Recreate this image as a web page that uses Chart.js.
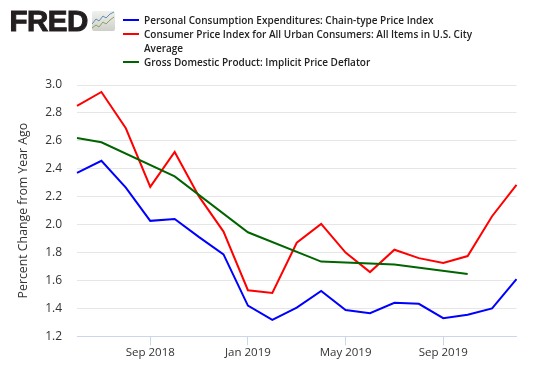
<!DOCTYPE html>
<html>
<head>
<meta charset="utf-8">
<script src="https://cdn.jsdelivr.net/npm/chart.js@4"></script>
<style>
html,body{margin:0;padding:0;background:#fff;width:537px;height:385px;overflow:hidden}
#wrap{position:relative;width:537px;height:385px}
canvas{position:absolute;left:0;top:0}
#logo{position:absolute;left:9.5px;top:2.5px;font:900 29.5px/36px "Liberation Sans";color:#231f20;letter-spacing:-0.5px;-webkit-text-stroke:1px #231f20}
#icon{position:absolute;left:92px;top:11px}
.lg{position:absolute;left:144px;font:600 10px/14px "Open Sans";color:#222;white-space:nowrap}
.sw{position:absolute;left:123px;width:16px;height:2px}
</style>
</head>
<body>
<div id="wrap">
<canvas id="c" width="537" height="385"></canvas>
<div id="logo">FRED</div>
<svg id="icon" width="23" height="20" viewBox="0 0 23 20">
<defs><linearGradient id="g" x1="0" y1="0" x2="0" y2="1"><stop offset="0" stop-color="#f0f0ee"/><stop offset="1" stop-color="#cfcfca"/></linearGradient></defs>
<rect width="23" height="20" rx="2" fill="url(#g)"/>
<polyline points="0,13 4,8 7,10 11,5 14,7 18,3 22,1" fill="none" stroke="#5f8fb0" stroke-width="1"/>
<polyline points="0,17 4,14 7,16 11,11 14,13 18,9 22,6" fill="none" stroke="#8aa35a" stroke-width="1"/>
</svg>
<div id="legend"></div>
</div>
<script>
const categories = ["Jun 2018","Jul 2018","Aug 2018","Sep 2018","Oct 2018","Nov 2018","Dec 2018","Jan 2019","Feb 2019","Mar 2019","Apr 2019","May 2019","Jun 2019","Jul 2019","Aug 2019","Sep 2019","Oct 2019","Nov 2019","Dec 2019"];
const tickLabels = ["Sep 2018","Jan 2019","May 2019","Sep 2019"];
const pceValues = [2.37,2.457,2.265,2.027,2.04,1.91,1.787,1.42,1.317,1.405,1.525,1.388,1.365,1.44,1.433,1.33,1.355,1.40,1.61];
const cpiValues = [2.85,2.95,2.69,2.27,2.52,2.2,1.95,1.53,1.51,1.87,2.005,1.80,1.66,1.82,1.76,1.725,1.775,2.06,2.285];
const gdpValues = [2.62,2.59,null,null,2.345,null,null,1.945,null,null,1.735,null,null,1.715,null,null,1.647,null,null];
const seriesNames = ["Personal Consumption Expenditures: Chain-type Price Index","Consumer Price Index for All Urban Consumers: All Items in U.S. City\nAverage","Gross Domestic Product: Implicit Price Deflator"];
const seriesColors = ["#0000ff","#ff0000","#006400"];

const legendTops = [12.5,26.5,54.5];
const legend = document.getElementById("legend");
seriesNames.forEach((n,i)=>{
  const t=document.createElement("div");t.className="lg";t.style.top=legendTops[i]+"px";t.innerText=n;legend.appendChild(t);
  const s=document.createElement("div");s.className="sw";s.style.top=Math.floor(legendTops[i]+7)+"px";s.style.background=seriesColors[i];legend.appendChild(s);
});

const fontFamily='"Open Sans"';
new Chart(document.getElementById("c"),{
  type:"line",
  data:{labels:categories,datasets:[pceValues,cpiValues,gdpValues].map((d,i)=>({
    label:seriesNames[i],data:d,borderColor:seriesColors[i],borderWidth:2,pointRadius:0,tension:0,spanGaps:true,borderJoinStyle:"miter",order:i===2?0:i+1
  }))},
  options:{
    responsive:false,animation:false,
    layout:{padding:{top:85,right:20.5,left:0,bottom:0}},
    plugins:{legend:{display:false},tooltip:{enabled:false}},
    scales:{
      x:{
        offset:false,
        grid:{display:true,drawOnChartArea:false,drawTicks:true,tickLength:9,color:"#ccd6eb"},
        border:{color:"#ccd6eb",width:1},
        ticks:{autoSkip:false,maxRotation:0,padding:1,color:"#333",font:{family:fontFamily,size:11.5},
          callback(v){return this.getLabelForValue(v);}},
        afterBuildTicks(s){s.ticks=s.ticks.filter(t=>tickLabels.includes(categories[t.value]));},
        afterFit(s){s.height=48.7;}
      },
      y:{
        min:1.2,max:3.0,
        grid:{color:"#e6e6e6",drawTicks:false,lineWidth:1},
        border:{display:false},
        ticks:{stepSize:0.2,padding:15,color:"#333",font:{family:fontFamily,size:12},callback:v=>v.toFixed(1)},
        title:{display:true,text:"Percent Change from Year Ago",color:"#333",font:{family:fontFamily,size:12.3},padding:{top:16,bottom:0}},
        afterFit(s){s.width=77;}
      }
    }
  }
});
</script>
</body>
</html>
